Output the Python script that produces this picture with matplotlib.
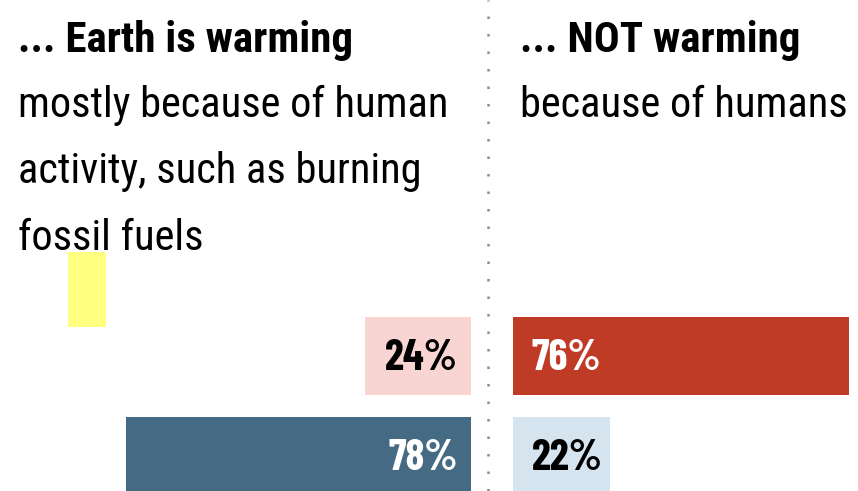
import matplotlib
matplotlib.use('Agg')
import matplotlib.pyplot as plt
from matplotlib.patches import Rectangle

plt.rcParams['font.family'] = ['Roboto Condensed', 'DejaVu Sans']
PCT_FONT = ['Barlow Condensed', 'Roboto Condensed', 'DejaVu Sans']

# Данные: две группы ответов
rows = ['Earth is warming mostly because of human activity', 'NOT warming because of humans']
left_pct = [24, 78]
right_pct = [76, 22]
left_colors = ['#F8D5D2', '#456A83']
right_colors = ['#C03B26', '#D6E4F0']
left_text = ['black', 'white']
right_text = ['white', 'black']

left_head = '... Earth is warming'
left_body = ['mostly because of human', 'activity, such as burning', 'fossil fuels']
right_head = '... NOT warming'
right_body = ['because of humans']

W, H = 858, 491
PX = 4.42  # пикселей на 1 %

fig = plt.figure(figsize=[W / 100, H / 100], dpi=100)
fig.patch.set_facecolor('white')

# левая панель: бары растут влево от x=471
axl = fig.add_axes([0, 0, 471 / W, 1])
axl.set_xlim(471 / PX, 0)
# правая панель: бары растут вправо от x=513
axr = fig.add_axes([513 / W, 0, (W - 513) / W, 1])
axr.set_xlim(0, (W - 513) / PX)

ypos = list(range(len(rows)))
for ax in (axl, axr):
    ax.set_ylim((H - 356) / 100, -356 / 100)
    ax.axis('off')

axl.barh(ypos, left_pct, height=0.78, color=left_colors)
axr.barh(ypos, right_pct, height=0.78, color=right_colors)
for i in ypos:
    axl.text(3.0, i + 0.02, f'{left_pct[i]}%', ha='right', va='center',
             fontsize=31, fontweight='bold', family=PCT_FONT, color=left_text[i])
    axr.text(4.2, i + 0.02, f'{right_pct[i]}%', ha='left', va='center',
             fontsize=31, fontweight='bold', family=PCT_FONT, color=right_text[i])

# заголовки
fig.text(18 / W, 1 - 52 / H, left_head, fontsize=31, fontweight='bold', va='baseline')
for k, line in enumerate(left_body):
    fig.text(18 / W, 1 - (117 + 66.5 * k) / H, line, fontsize=30.5, va='baseline')
fig.text(520 / W, 1 - 52 / H, right_head, fontsize=31, fontweight='bold', va='baseline')
for k, line in enumerate(right_body):
    fig.text(520 / W, 1 - (117 + 66.5 * k) / H, line, fontsize=30.5, va='baseline')

# пунктирный разделитель
fig.add_artist(plt.Line2D([488 / W, 488 / W], [0, 1], color='#8c8c8c',
                          lw=1.8, ls=(0, (1, 6))))

# жёлтая метка
fig.add_artist(Rectangle((68 / W, 1 - 327 / H), 38 / W, 75 / H,
                         transform=fig.transFigure, color='#FFFF80', lw=0))

fig.savefig('out.png', dpi=100)
